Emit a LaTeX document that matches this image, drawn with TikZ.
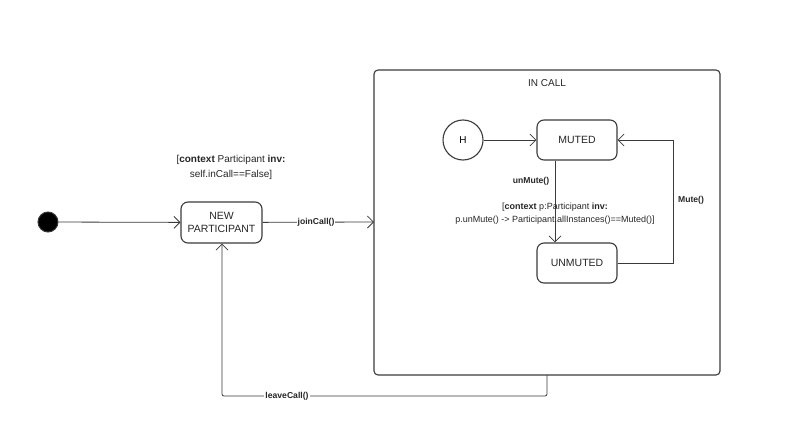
\documentclass[tikz,border=0pt]{standalone}
\usepackage{fontspec}
\setmainfont{Liberation Sans}
\usetikzlibrary{arrows.meta}
\definecolor{ln}{HTML}{3A3A3A}
\begin{document}
\begin{tikzpicture}[x=1pt,y=-1pt,
  statebox/.style={draw=ln,line width=1.1pt,rounded corners=7pt,minimum width=81pt,minimum height=41pt,align=center,font=\fontsize{10.5}{12.5}\selectfont,text=black!85},
  conn/.style={draw=ln,line width=0.8pt,-{Straight Barb[length=6pt,width=12pt,line width=0.8pt]}},
  lbl/.style={font=\fontsize{8.6}{10}\selectfont\bfseries,text=black!85,inner sep=1pt},
  guard/.style={font=\fontsize{9}{13}\selectfont,text=black!85,align=center,inner sep=0pt}]
\useasboundingbox (0,0) rectangle (786,436);
% initial state
\node[circle,fill=black,draw=ln,line width=1pt,minimum size=20pt,inner sep=0pt] (init) at (48,222) {};
% new participant
\node[statebox] (np) at (221.5,222.5) {NEW\\PARTICIPANT};
% in call composite
\draw[draw=ln,line width=1.1pt,rounded corners=4pt] (374,70) rectangle (720,375);
\node[font=\fontsize{10}{12}\selectfont,text=black!85] (incalltitle) at (547,83) {IN CALL};
\coordinate (icl) at (374,222);
\coordinate (icb) at (547,375);
% history
\node[circle,draw=ln,line width=1.1pt,minimum size=40pt,inner sep=0pt,font=\fontsize{10}{12}\selectfont] (H) at (463,140) {H};
\node[statebox,minimum width=80pt,minimum height=40pt] (muted) at (577,140) {MUTED};
\node[statebox,minimum width=80pt,minimum height=40pt] (unmuted) at (577,263) {UNMUTED};
% guard for new participant
\node[font=\fontsize{10}{15}\selectfont,text=black!85,align=center,inner sep=0pt] (npguard) at (231,167) {[\textbf{context} Participant \textbf{inv:}\\ self.inCall==False]};
% connectors
\draw[conn] (init) -- (np);
\draw[conn] (np) -- (icl) node[lbl,pos=0.48,fill=white] {joinCall()};
\draw[conn] (H) -- (muted);
\draw[conn] (muted.south -| 555,0) -- (unmuted.north -| 555,0);
\node[lbl] (unmutelbl) at (531,181) {unMute()};
\node[guard] (mguard) at (555,213.5) {[\textbf{context} p:Participant \textbf{inv:}\\p.unMute() -> Participant.allInstances()==Muted()]};
\draw[conn] (unmuted.east) -- (673,263) -- (673,140) -- (muted.east);
\node[lbl] (mutelbl) at (691,200) {Mute()};
\draw[conn,rounded corners=2pt] (icb) -- (547,396) -- (222,396) -- (np.south -| 222,0);
\node[lbl,fill=white] (leavelbl) at (287,396) {leaveCall()};
\end{tikzpicture}
\end{document}
